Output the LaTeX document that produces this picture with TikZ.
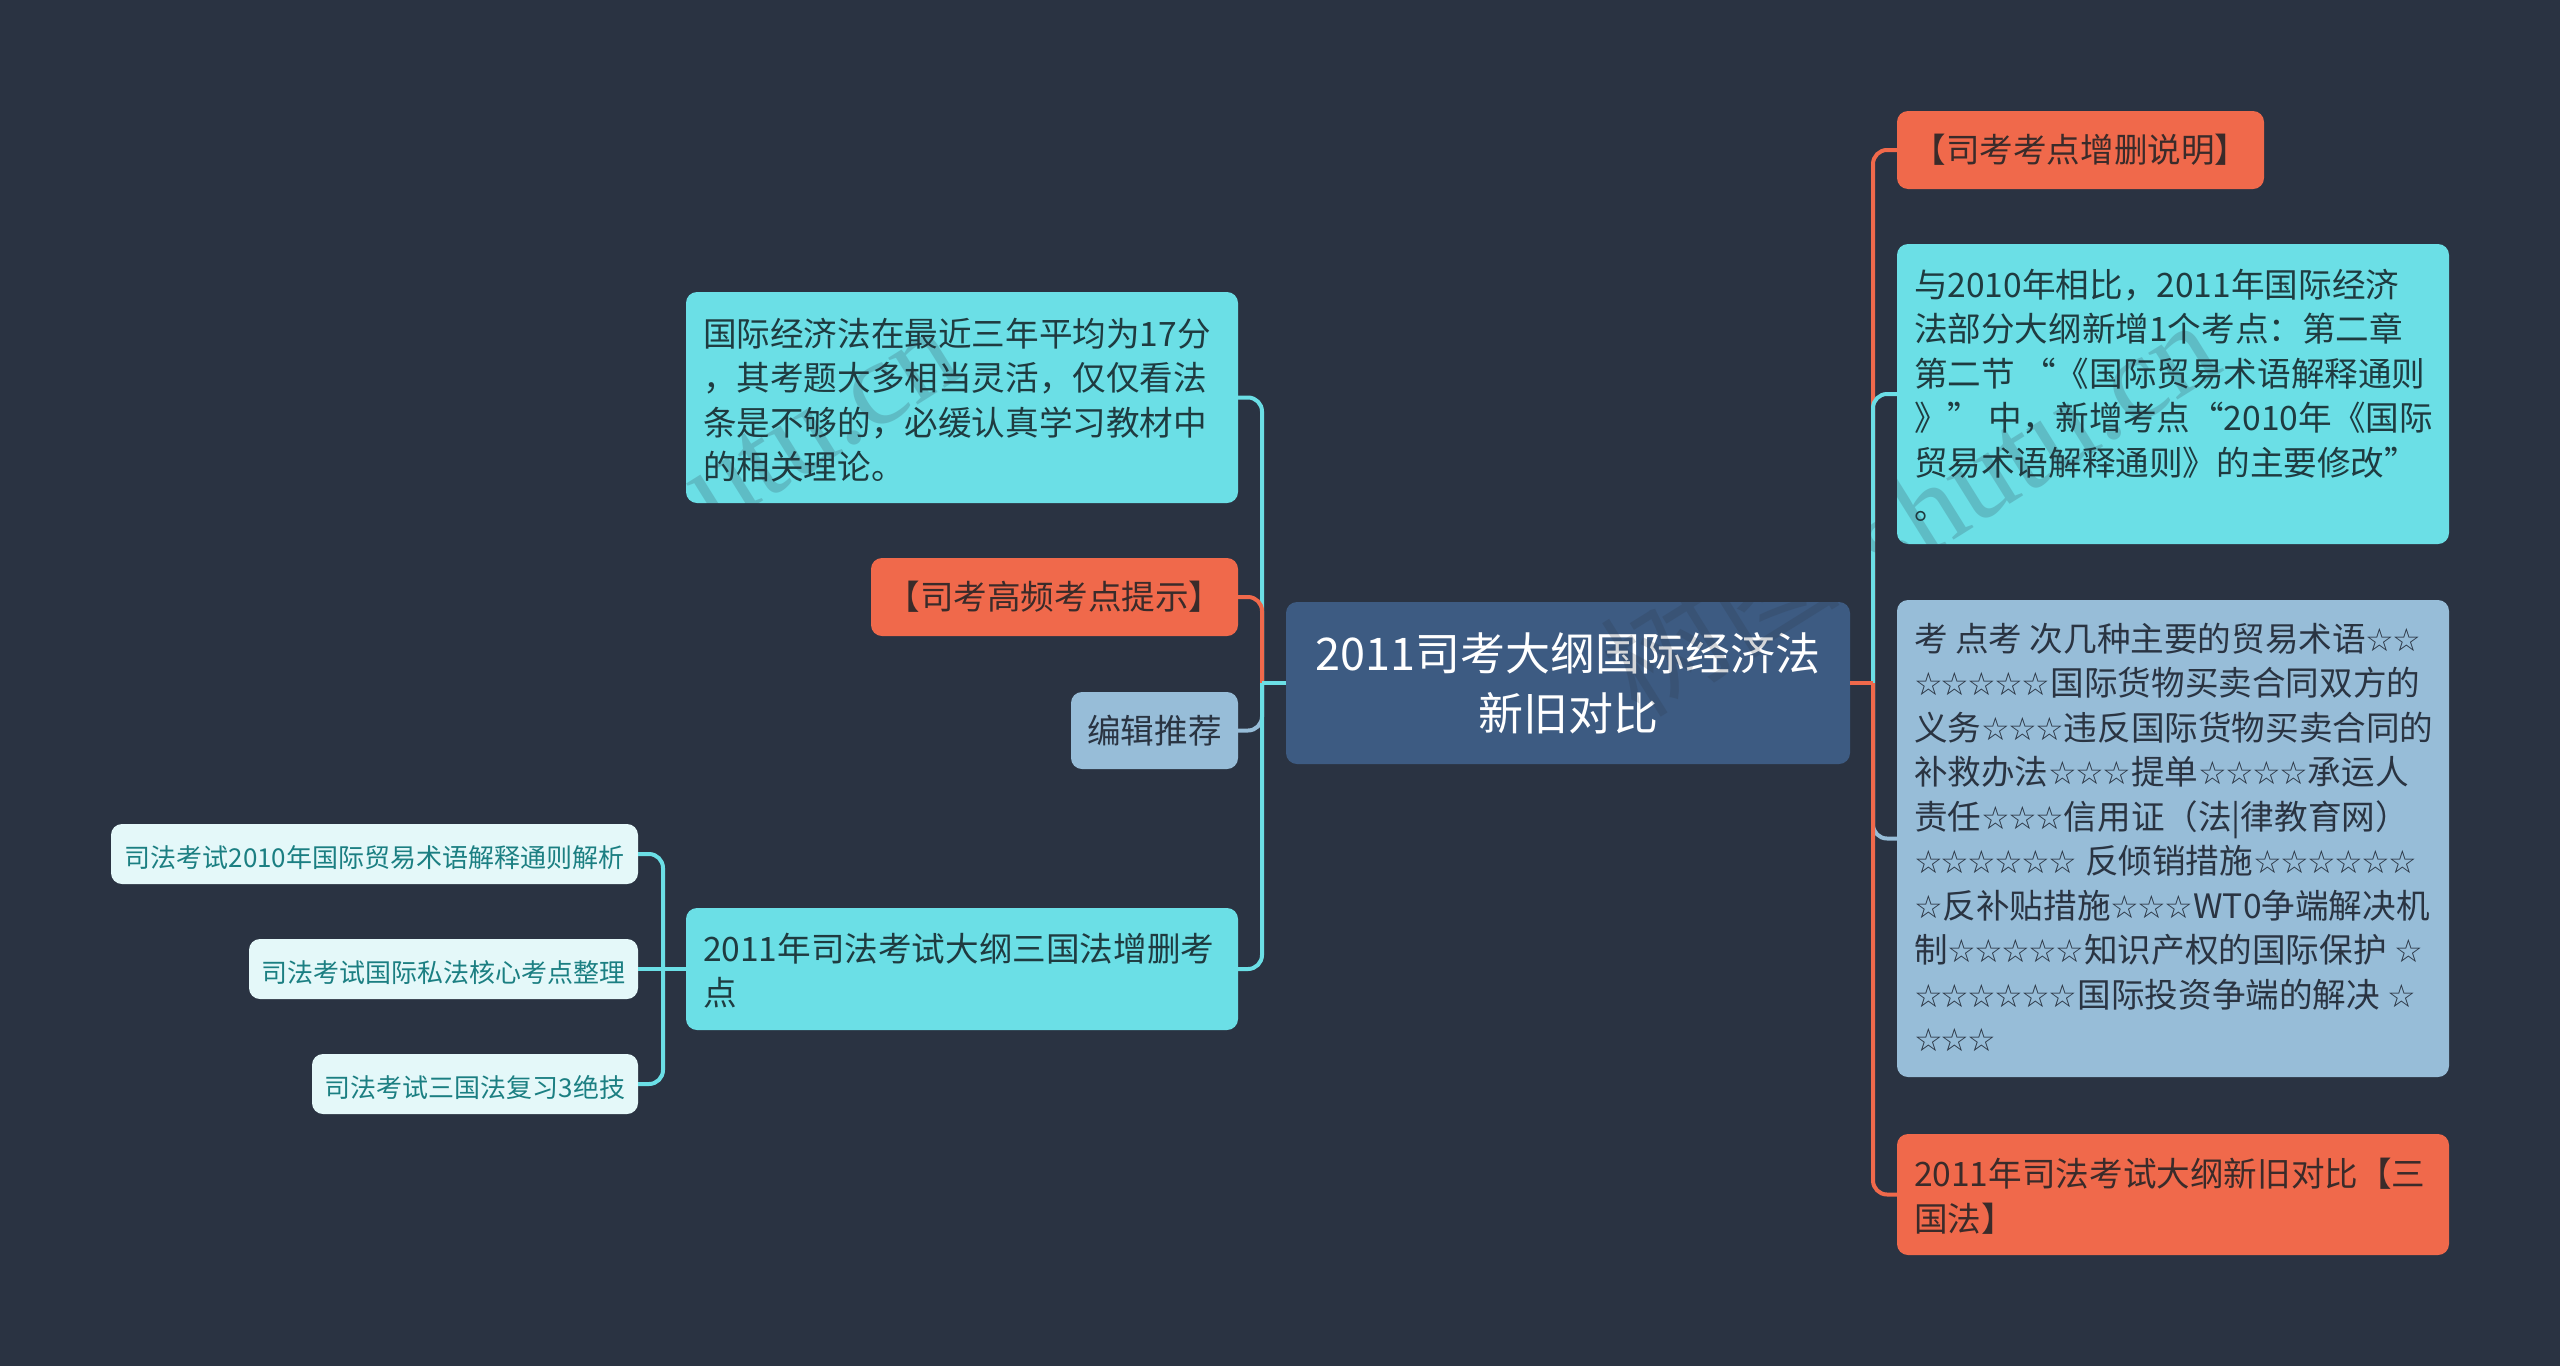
\documentclass[tikz,border=0pt]{standalone}
\usepackage{fontspec}
\setmainfont{Noto Sans CJK SC}
\newfontfamily\starfont[LetterSpace=-5.3]{DejaVu Sans}
\newfontfamily\wmfont{Liberation Serif}
\newcommand{\xs}[1]{{\starfont\fontsize{32}{44.5}\selectfont #1}}
\newcommand{\wide}[2]{\makebox[552pt][l]{\smash{\raisebox{-#1pt}{\hspace{17pt}\begin{tabular}[c]{@{}l@{}}#2\end{tabular}}}}}
\newcommand{\low}[2]{\smash{\raisebox{-#1pt}{#2}}}
\definecolor{bgc}{HTML}{2A3342}
\definecolor{cyanc}{HTML}{6BDFE6}
\definecolor{orangec}{HTML}{F0694B}
\definecolor{bluec}{HTML}{97BDD8}
\definecolor{centerc}{HTML}{3D5B82}
\definecolor{leafc}{HTML}{E4F8F9}
\definecolor{leaftext}{HTML}{1B7F82}
\definecolor{cyantext}{HTML}{1F3B40}
\definecolor{orangetext}{HTML}{3A2B2A}
\definecolor{bluetext}{HTML}{2A3442}
\tikzset{
 x=1pt,y=-1pt,
 boxbase/.style={rectangle,rounded corners=11pt,anchor=north west,inner sep=0pt,outer sep=0pt,align=left},
 cyanbox/.style={boxbase,fill=cyanc,text=cyantext,font=\fontsize{33.6}{44.5}\selectfont},
 orangebox/.style={boxbase,fill=orangec,text=orangetext,font=\fontsize{33.6}{44.5}\selectfont},
 bluebox/.style={boxbase,fill=bluec,text=bluetext,font=\fontsize{33.6}{44.5}\selectfont},
 leafbox/.style={boxbase,fill=leafc,text=leaftext,font=\fontsize{26}{34}\selectfont},
 centerbox/.style={boxbase,fill=centerc,text=white,align=center,font=\fontsize{45}{60}\selectfont},
 linkc/.style={line width=4pt,cyanc},
 linko/.style={line width=4pt,orangec},
 linkb/.style={line width=4pt,bluec},
 elbow/.style={rounded corners=14pt},
 wmark/.style={text=bgc,text opacity=0.2,rotate=32,inner sep=0pt},
}
\begin{document}
\begin{tikzpicture}
\fill[bgc] (0,0) rectangle (2560,1366);
\useasboundingbox (0,0) rectangle (2560,1366);
% trunks
\coordinate (tr) at (1873,683);
\coordinate (tl) at (1262,683);
\coordinate (tf) at (663,969);
% nodes
\node[centerbox,minimum width=564pt,minimum height=162pt] (c) at (1286,602) {2011司考大纲国际经济法\\新旧对比};
\node[orangebox,minimum width=367pt,minimum height=78pt,align=center] (r1) at (1897,111) {【司考考点增删说明】};
\node[cyanbox,minimum width=552pt,minimum height=300pt] (r2) at (1897,244) {\wide{12}{与2010年相比，2011年国际经济\\法部分大纲新增1个考点：第二章\\第二节 “《国际贸易术语解释通则\\》” 中，新增考点“2010年《国际\\贸易术语解释通则》的主要修改”\\。}};
\node[bluebox,minimum width=552pt,minimum height=477pt] (r3) at (1897,600) {\wide{10.4}{考 点考 次几种主要的贸易术语\xs{☆☆}\\\xs{☆☆☆☆☆}国际货物买卖合同双方的\\义务\xs{☆☆☆}违反国际货物买卖合同的\\补救办法\xs{☆☆☆}提单\xs{☆☆☆☆}承运人\\责任\xs{☆☆☆}信用证（法|律教育网）\\\xs{☆☆☆☆☆☆} 反倾销措施\xs{☆☆☆☆☆☆}\\\xs{☆}反补贴措施\xs{☆☆☆}WT0争端解决机\\制\xs{☆☆☆☆☆}知识产权的国际保护 \xs{☆}\\\xs{☆☆☆☆☆☆}国际投资争端的解决 \xs{☆}\\\xs{☆☆☆}}};
\node[orangebox,minimum width=552pt,minimum height=121pt] (r4) at (1897,1134) {\wide{12}{2011年司法考试大纲新旧对比【三\\国法】}};
\node[cyanbox,minimum width=552pt,minimum height=211pt] (a) at (686,292) {\wide{13}{国际经济法在最近三年平均为17分\\，其考题大多相当灵活，仅仅看法\\条是不够的，必缓认真学习教材中\\的相关理论。}};
\node[orangebox,minimum width=367pt,minimum height=78pt,align=center] (b) at (871,558) {【司考高频考点提示】};
\node[bluebox,minimum width=167pt,minimum height=77pt,align=center] (e) at (1071,692) {编辑推荐};
\node[cyanbox,minimum width=552pt,minimum height=122pt] (d) at (686,908) {\wide{12}{2011年司法考试大纲三国法增删考\\点}};
\node[leafbox,minimum width=527pt,minimum height=60pt,align=center] (l1) at (111,824) {\low{13}{司法考试2010年国际贸易术语解释通则解析}};
\node[leafbox,minimum width=389pt,minimum height=60pt,align=center] (l2) at (249,939) {\low{13}{司法考试国际私法核心考点整理}};
\node[leafbox,minimum width=326pt,minimum height=60pt,align=center] (l3) at (312,1054) {\low{13}{司法考试三国法复习3绝技}};
% connectors right
\draw[linko,elbow] (tr) -- (tr |- r1.west) -- (r1.west);
\draw[linkc,elbow] (tr) -- (tr |- r2.west) -- (r2.west);
\draw[linkb,elbow] (tr) -- (tr |- r3.west) -- (r3.west);
\draw[linko,elbow] (tr) -- (tr |- r4.west) -- (r4.west);
\draw[linko] (c.east) -- (tr);
% connectors left
\draw[linkc,elbow] (tl) -- (tl |- a.east) -- (a.east);
\draw[linko,elbow] (tl) -- (tl |- b.east) -- (b.east);
\draw[linkb,elbow] (tl) -- (tl |- e.east) -- (e.east);
\draw[linkc,elbow] (tl) -- (tl |- d.east) -- (d.east);
\draw[linkc] (c.west) -- (tl);
% connectors leaf
\draw[linkc,elbow] (tf) -- (tf |- l1.east) -- (l1.east);
\draw[linkc,elbow] (tf) -- (tf |- l3.east) -- (l3.east);
\draw[linkc] (d.west) -- (l2.east);
% watermarks
\node[wmark,anchor=east,font=\wmfont\fontsize{120}{120}\selectfont] (w1) at (945,340) {shutu.cn};
\node[wmark,anchor=east,font=\wmfont\fontsize{120}{120}\selectfont] (w2) at (2205,335) {shutu.cn};
\node[wmark,font=\fontsize{120}{120}\selectfont] (w3) at (1717,617) {树图};
\end{tikzpicture}
\end{document}
